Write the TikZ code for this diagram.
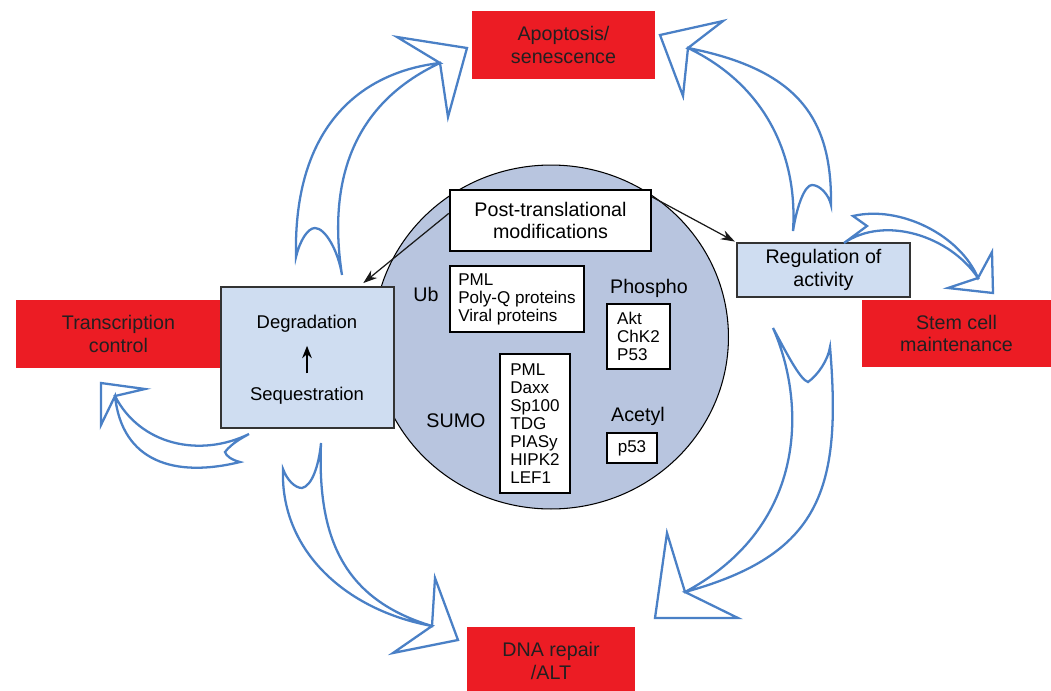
\documentclass[tikz,border=0pt]{standalone}
\usepackage{fontspec}
\setmainfont{Liberation Sans}
\usetikzlibrary{arrows.meta}
\usetikzlibrary{shapes.geometric}
\definecolor{cellblue}{HTML}{B8C5DF}
\definecolor{boxblue}{HTML}{CFDDF1}
\definecolor{fatered}{HTML}{EC1C24}
\definecolor{flowblue}{HTML}{4A80C6}
\definecolor{inktext}{HTML}{231F20}
\newcommand{\bigtxt}{\fontsize{11.2pt}{13pt}\selectfont}
\newcommand{\listtxt}{\fontsize{9.7pt}{10.3pt}\selectfont}
\newcommand{\midtxt}{\fontsize{10.5pt}{12pt}\selectfont}
\begin{document}
\begin{tikzpicture}[x=0.02cm,y=-0.02cm,
  fate/.style={fill=fatered,text=inktext,align=center,font=\bigtxt,inner sep=0pt},
  actbox/.style={fill=boxblue,draw=black!80,line width=0.7pt,inner sep=0pt},
  modbox/.style={fill=white,draw=black,line width=1.2pt,align=left,font=\listtxt,inner sep=0pt},
  modlabel/.style={font=\bigtxt,anchor=base,inner sep=0pt},
  flow/.style={draw=flowblue,fill=white,line width=1.3pt,line join=miter},
  link/.style={draw=black!90,line width=0.7pt,-{Stealth[length=8pt,width=5.5pt]}}]
\useasboundingbox (0,0) rectangle (1051,690);
\node[ellipse,fill=cellblue,draw=black,line width=0.6pt,minimum width=7.1cm,minimum height=6.88cm] (cell) at (551,337) {};
\node[fate,minimum width=4.1cm,minimum height=1.36cm] (trans) at (118.5,334) {Transcription\\control};
\node[actbox,minimum width=3.46cm,minimum height=2.82cm] (degr) at (307.5,357.5) {};
\node[font=\midtxt] (deg) at (307,324) {Degradation};
\node[font=\midtxt] (seq) at (307,396) {Sequestration};
\draw[-{Stealth[length=7pt,width=5.5pt]},line width=1pt,shorten >=4pt,shorten <=4.5pt] (seq) -- (deg);
\node[fill=white,draw=black,line width=1.4pt,minimum width=4.02cm,minimum height=1.22cm,align=center,font=\bigtxt] (ptm) at (550.5,220.5) {Post-translational\\modifications};
\node[modbox,minimum width=2.68cm,minimum height=1.32cm] (ubbox) at (517,299) {PML\\Poly-Q proteins\\Viral proteins};
\node[modbox,minimum width=1.26cm,minimum height=1.3cm] (phbox) at (638.5,336.5) {Akt\\ChK2\\P53};
\node[modbox,minimum width=1.4cm,minimum height=2.78cm] (sumobox) at (535,423.5) {PML\\Daxx\\Sp100\\TDG\\PIASy\\HIPK2\\LEF1};
\node[modbox,minimum width=1cm,minimum height=0.6cm] (acbox) at (632,448) {p53};
\node[modlabel] (ub) at (426,301) {Ub};
\node[modlabel] (phos) at (649,293) {Phospho};
\node[modlabel] (sumo) at (456,427) {SUMO};
\node[modlabel] (acet) at (638,421) {Acetyl};
\node[actbox,minimum width=3.46cm,minimum height=1.08cm,align=center,font=\bigtxt] (reg) at (823.5,270) {Regulation of\\activity};
\node[fate,minimum width=3.66cm,minimum height=1.36cm] (apop) at (563.5,45) {Apoptosis/\\senescence};
\node[fate,minimum width=3.78cm,minimum height=1.34cm] (stem) at (956.5,333.5) {Stem cell\\maintenance};
\node[fate,minimum width=3.36cm,minimum height=1.36cm] (dna) at (551,661) {DNA repair\\/ALT};
\draw[link,shorten >=3pt] (ptm.176) -- (degr.54);
\draw[link,shorten >=1pt] (ptm.13) -- (reg.north west);
\draw[flow] (296,257) .. controls (300,240) and (308,228) .. (315,228) .. controls (325,228) and (338,250) .. (342,275)
  .. controls (328,185) and (350,105) .. (440,63) -- (448,117) -- (467,48) -- (397,37) -- (440,63)
  .. controls (362,72) and (293,125) .. (296,257) -- cycle;
\draw[flow] (793,231) .. controls (797,205) and (805,185) .. (812,185) .. controls (820,185) and (829,195) .. (831,205)
  .. controls (832,120) and (800,70) .. (688,48) -- (723,21) -- (660,35) -- (683,96) -- (688,48)
  .. controls (765,85) and (798,155) .. (793,231) -- cycle;
\draw[flow] (844,243) -- (867,226) -- (853,216) .. controls (900,205) and (960,235) .. (978,278)
  -- (992,252) -- (993,293) -- (948,288) -- (978,278)
  .. controls (950,236) and (885,215) .. (844,243) -- cycle;
\draw[flow] (773,328) .. controls (785,350) and (800,380) .. (808,382) .. controls (818,375) and (828,360) .. (830,347)
  .. controls (842,490) and (820,555) .. (685,592) -- (738,618) -- (655,618) -- (667,533) -- (685,592)
  .. controls (810,525) and (805,400) .. (773,328) -- cycle;
\draw[flow] (283,469) .. controls (287,480) and (295,488) .. (302,488) .. controls (312,486) and (319,465) .. (321,443)
  .. controls (317,540) and (345,600) .. (432,626) -- (435,578) -- (458,640) -- (393,653) -- (432,626)
  .. controls (345,610) and (280,550) .. (283,469) -- cycle;
\draw[flow] (240,462) .. controls (232,460) and (226,456) .. (225,452) .. controls (232,443) and (242,438) .. (249,434)
  .. controls (200,458) and (140,445) .. (115,396) -- (145,389) -- (101,383) -- (101,425) -- (115,396)
  .. controls (122,462) and (175,478) .. (240,462) -- cycle;
\end{tikzpicture}
\end{document}
